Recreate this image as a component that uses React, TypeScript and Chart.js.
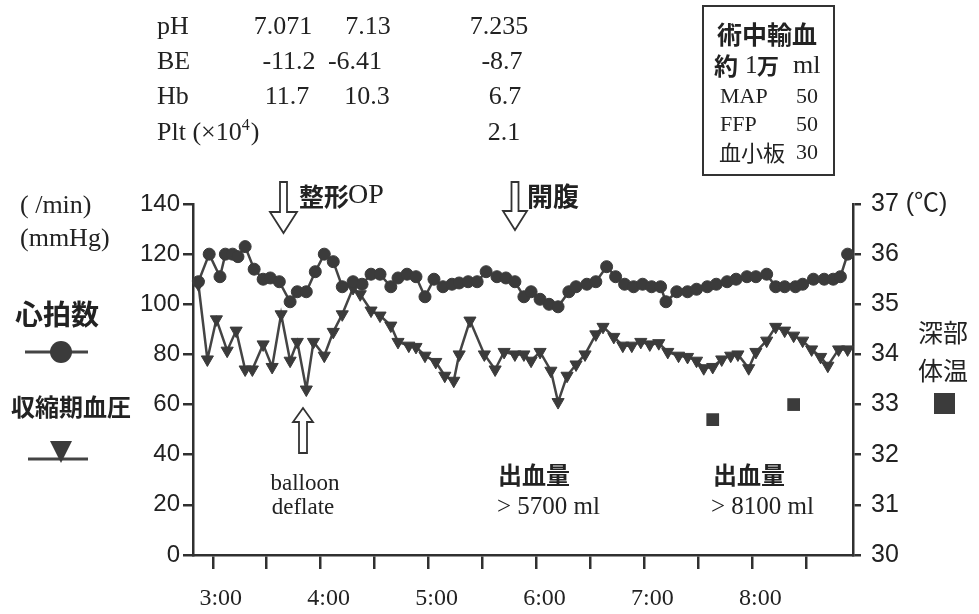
import React, { useEffect, useRef } from "react";
import { Chart, registerables } from "chart.js";

Chart.register(...registerables);

// ---- data ----
const hrTimes = [
  "2:52", "2:58", "3:04", "3:07", "3:11", "3:14", "3:18", "3:23", "3:28", "3:32",
  "3:37", "3:43", "3:47", "3:52", "3:57", "4:02", "4:07", "4:12", "4:18", "4:23",
  "4:28", "4:33", "4:39", "4:43", "4:48", "4:53", "4:58", "5:03", "5:08", "5:13",
  "5:17", "5:22", "5:27", "5:32", "5:38", "5:43", "5:48", "5:53", "5:57", "6:02",
  "6:07", "6:12", "6:18", "6:22", "6:28", "6:33", "6:39", "6:44", "6:49", "6:54",
  "6:59", "7:04", "7:09", "7:12", "7:18", "7:24", "7:29", "7:35", "7:40", "7:46",
  "7:51", "7:57", "8:02", "8:08", "8:13", "8:18", "8:24", "8:28", "8:34", "8:40",
  "8:45", "8:49", "8:53",
];
const heartRate = [
  109, 120, 111, 120, 120, 119, 123, 114, 110, 110.5,
  109, 101, 105, 105, 113, 120, 117, 107, 109, 108,
  112, 112, 107, 110.5, 112, 111, 103, 110, 107, 108,
  108.5, 109, 109, 113, 111, 110.5, 109, 103, 105, 102,
  100, 99, 105, 107, 108, 109, 115, 111, 108, 107,
  108, 107, 107, 101, 105, 105, 106, 107, 108, 109,
  110, 111, 111, 112, 107, 107, 107, 108, 110, 110,
  110, 111, 120,
];

const bpTimes = [
  "2:52", "2:57", "3:02", "3:08", "3:13", "3:18", "3:22", "3:28", "3:33", "3:38",
  "3:43", "3:47", "3:52", "3:56", "4:02", "4:07", "4:12", "4:18", "4:22", "4:28",
  "4:33", "4:39", "4:43", "4:49", "4:53", "4:58", "5:04", "5:09", "5:14", "5:17",
  "5:23", "5:31", "5:37", "5:42", "5:48", "5:53", "5:57", "6:02", "6:08", "6:12",
  "6:17", "6:22", "6:27", "6:33", "6:37", "6:43", "6:48", "6:53", "6:58", "7:03",
  "7:08", "7:13", "7:19", "7:24", "7:29", "7:33", "7:38", "7:43", "7:48", "7:52",
  "7:58", "8:02", "8:08", "8:13", "8:18", "8:23", "8:28", "8:33", "8:38", "8:42",
  "8:48", "8:53",
];
const systolicBP = [
  108, 78, 94, 81.5, 89.5, 74, 74, 84, 75, 96,
  77.5, 85, 66, 85, 79.5, 89, 96, 106.5, 104, 97.5,
  95.5, 91.5, 85, 83.5, 83, 79.5, 77, 71.5, 69.5, 80,
  93.5, 80, 74, 81, 80, 80, 77.5, 81, 73.5, 61,
  71.5, 76, 80, 88, 91, 87, 83.5, 83.5, 85, 84,
  84.5, 81, 79.5, 79, 77.5, 74.5, 75, 78, 79.5, 80,
  74.5, 81, 85.5, 91, 89.5, 87.5, 85.5, 82, 79, 75.5,
  82, 82,
];

const tempTimes = ["7:38", "8:23"];
const coreTemp = [32.7, 33.0];

const hourLabels = ["3:00", "4:00", "5:00", "6:00", "7:00", "8:00"];
const X_START = "2:49";
const X_END = "8:56";

const labHeader = ["pH", "BE", "Hb", "Plt"];
const labPH = ["7.071", "7.13", "7.235"];
const labBE = ["-11.2", "-6.41", "-8.7"];
const labHb = ["11.7", "10.3", "6.7"];
const labPlt = ["", "", "2.1"];

// ---- helpers ----
const toMin = (s: string) => {
  const [h, m] = s.split(":").map(Number);
  return h * 60 + m;
};

const SERIF = '"Liberation Serif", "Noto Sans CJK JP", serif';
const SANS = '"Liberation Sans", "Noto Sans CJK JP", sans-serif';
const CJK = '"Noto Sans CJK JP", sans-serif';
const INK = "#222";
const MARK = "#3b3b3b";
const AXIS = "#303030";

function txt(
  ctx: CanvasRenderingContext2D,
  s: string,
  x: number,
  y: number,
  font: string,
  align: CanvasTextAlign = "left"
) {
  ctx.font = font;
  ctx.textAlign = align;
  ctx.textBaseline = "middle";
  ctx.fillStyle = INK;
  ctx.fillText(s, x, y);
}

function hollowArrow(
  ctx: CanvasRenderingContext2D,
  cx: number,
  start: number,
  headBase: number,
  tip: number,
  shaftHalf: number,
  headHalf: number
) {
  ctx.beginPath();
  ctx.moveTo(cx - shaftHalf, start);
  ctx.lineTo(cx + shaftHalf, start);
  ctx.lineTo(cx + shaftHalf, headBase);
  ctx.lineTo(cx + headHalf, headBase);
  ctx.lineTo(cx, tip);
  ctx.lineTo(cx - headHalf, headBase);
  ctx.lineTo(cx - shaftHalf, headBase);
  ctx.closePath();
  ctx.fillStyle = "#fff";
  ctx.fill();
  ctx.strokeStyle = "#333";
  ctx.lineWidth = 1.8;
  ctx.stroke();
}

const bgPlugin = {
  id: "bg",
  beforeDraw(chart: any) {
    const ctx = chart.ctx as CanvasRenderingContext2D;
    ctx.save();
    ctx.fillStyle = "#fff";
    ctx.fillRect(0, 0, chart.width, chart.height);
    ctx.restore();
  },
};

const annotPlugin = {
  id: "annot",
  afterDraw(chart: any) {
    const ctx = chart.ctx as CanvasRenderingContext2D;
    ctx.save();

    // lab table
    const rowsY = [27, 62, 97, 133];
    const f26 = `26px ${SERIF}`;
    labHeader.forEach((h, i) => {
      if (h !== "Plt") txt(ctx, h, 157, rowsY[i], f26);
    });
    ctx.font = f26;
    txt(ctx, "Plt (×10", 157, rowsY[3], f26);
    const w = ctx.measureText("Plt (×10").width;
    txt(ctx, "4", 157 + w, rowsY[3] - 7, `16px ${SERIF}`);
    const w4 = ctx.measureText("4").width;
    txt(ctx, ")", 157 + w + w4 + 1, rowsY[3], f26);

    const colX = [[283, 368, 499], [289, 355, 502], [287, 367, 505], [0, 0, 504]];
    [labPH, labBE, labHb, labPlt].forEach((row, r) => {
      row.forEach((v, c) => {
        if (v) txt(ctx, v, colX[r][c], rowsY[r], f26, "center");
      });
    });

    // transfusion box
    ctx.strokeStyle = "#333";
    ctx.lineWidth = 2;
    ctx.strokeRect(703, 6, 131, 169);
    txt(ctx, "術中輸血", 767, 34, `bold 25px ${CJK}`, "center");
    txt(ctx, "約", 714, 66, `bold 24px ${CJK}`);
    txt(ctx, "1", 745, 66, `25px ${SERIF}`);
    txt(ctx, "万", 757, 66, `bold 22px ${CJK}`);
    txt(ctx, "ml", 793, 66, `26px ${SERIF}`);
    txt(ctx, "MAP", 720, 97, `22px ${SERIF}`);
    txt(ctx, "50", 818, 97, `22px ${SERIF}`, "right");
    txt(ctx, "FFP", 720, 125, `22px ${SERIF}`);
    txt(ctx, "50", 818, 125, `22px ${SERIF}`, "right");
    txt(ctx, "血小板", 719, 153, `22px ${CJK}`);
    txt(ctx, "30", 818, 153, `22px ${SERIF}`, "right");

    // axis titles
    txt(ctx, "( /min)", 20, 206, `26px ${SERIF}`);
    txt(ctx, "(mmHg)", 20, 239, `26px ${SERIF}`);

    // left legend
    txt(ctx, "心拍数", 57, 314, `bold 28px ${CJK}`, "center");
    ctx.strokeStyle = "#444";
    ctx.lineWidth = 3;
    ctx.beginPath();
    ctx.moveTo(25, 352);
    ctx.lineTo(88, 352);
    ctx.stroke();
    ctx.fillStyle = MARK;
    ctx.beginPath();
    ctx.arc(61, 352, 11, 0, Math.PI * 2);
    ctx.fill();

    txt(ctx, "収縮期血圧", 71, 407, `bold 24px ${CJK}`, "center");
    ctx.beginPath();
    ctx.moveTo(28, 459);
    ctx.lineTo(88, 459);
    ctx.stroke();
    ctx.fillStyle = MARK;
    ctx.beginPath();
    ctx.moveTo(50, 441);
    ctx.lineTo(72, 441);
    ctx.lineTo(61, 463);
    ctx.closePath();
    ctx.fill();

    // right legend
    txt(ctx, "深部", 943, 332, `25px ${CJK}`, "center");
    txt(ctx, "体温", 943, 370, `25px ${CJK}`, "center");
    ctx.fillStyle = MARK;
    ctx.fillRect(934, 393, 21, 21);

    // event arrows
    hollowArrow(ctx, 283.5, 182, 212, 233, 3.5, 13.5);
    txt(ctx, "整形", 299, 196, `bold 25px ${CJK}`);
    txt(ctx, "OP", 348, 196, `28px ${SERIF}`);
    hollowArrow(ctx, 515, 182, 211, 230, 3.5, 12);
    txt(ctx, "開腹", 527, 196, `bold 26px ${CJK}`);
    hollowArrow(ctx, 303, 453, 422, 408, 4, 10);
    txt(ctx, "balloon", 305, 484, `23px ${SERIF}`, "center");
    txt(ctx, "deflate", 303, 508, `23px ${SERIF}`, "center");

    // blood loss
    txt(ctx, "出血量", 498, 475, `bold 24px ${CJK}`);
    txt(ctx, "> 5700 ml", 497, 507, `25px ${SERIF}`);
    txt(ctx, "出血量", 713, 475, `bold 24px ${CJK}`);
    txt(ctx, "> 8100 ml", 711, 507, `25px ${SERIF}`);

    ctx.restore();
  },
};

export default function App() {
  const ref = useRef<HTMLCanvasElement>(null);

  useEffect(() => {
    document.body.style.margin = "0";
    const canvas = ref.current!;
    const chart = new Chart(canvas, {
      type: "line",
      data: {
        datasets: [
          {
            label: "心拍数",
            data: hrTimes.map((t, i) => ({ x: toMin(t), y: heartRate[i] })),
            xAxisID: "x",
            yAxisID: "y",
            borderColor: "#444",
            borderWidth: 2.5,
            pointStyle: "circle",
            pointRadius: 6,
            pointBackgroundColor: MARK,
            pointBorderColor: MARK,
            pointBorderWidth: 1,
            tension: 0,
            clip: false as any,
          },
          {
            label: "収縮期血圧",
            data: bpTimes.map((t, i) => ({ x: toMin(t), y: systolicBP[i] })),
            xAxisID: "x",
            yAxisID: "y",
            borderColor: "#444",
            borderWidth: 2.5,
            pointStyle: "triangle",
            pointRotation: 180,
            pointRadius: 7,
            pointBackgroundColor: MARK,
            pointBorderColor: MARK,
            pointBorderWidth: 1,
            tension: 0,
            clip: false as any,
          },
          {
            label: "深部体温",
            data: tempTimes.map((t, i) => ({ x: toMin(t), y: coreTemp[i] })),
            xAxisID: "x",
            yAxisID: "y2",
            showLine: false,
            pointStyle: "rect",
            pointRadius: 9,
            pointBackgroundColor: MARK,
            pointBorderColor: MARK,
            pointBorderWidth: 0,
            clip: false as any,
          },
        ],
      },
      options: {
        responsive: false,
        animation: false,
        devicePixelRatio: 1,
        layout: { padding: { top: 204, left: 0, right: 0, bottom: 0 } },
        plugins: {
          legend: { display: false },
          tooltip: { enabled: false },
        },
        scales: {
          x: {
            type: "linear",
            position: "bottom",
            min: toMin(X_START),
            max: toMin(X_END),
            afterFit: (s: any) => {
              s.height = 59;
            },
            ticks: {
              stepSize: 30,
              includeBounds: false,
              autoSkip: false,
              maxRotation: 0,
              minRotation: 0,
              labelOffset: 8,
              padding: 15,
              color: INK,
              font: { family: SERIF, size: 24 },
              callback: (v: any) =>
                Number(v) % 60 === 0 ? hourLabels[(Number(v) - 180) / 60] ?? "" : "",
            },
            grid: {
              drawOnChartArea: false,
              drawTicks: true,
              tickLength: 14,
              color: AXIS,
              lineWidth: 2.5,
            },
            border: { display: true, color: AXIS, width: 2.5 },
          },
          y: {
            type: "linear",
            position: "left",
            min: 0,
            max: 140,
            afterFit: (s: any) => {
              s.width = 193;
            },
            ticks: {
              stepSize: 20,
              padding: 3,
              color: INK,
              font: { family: SANS, size: 24 },
            },
            grid: {
              drawOnChartArea: false,
              drawTicks: true,
              tickLength: 10,
              color: AXIS,
              lineWidth: 2.5,
            },
            border: { display: true, color: AXIS, width: 2.5 },
          },
          y2: {
            type: "linear",
            position: "right",
            min: 30,
            max: 37,
            afterFit: (s: any) => {
              s.width = 126;
            },
            ticks: {
              stepSize: 1,
              padding: 10,
              color: INK,
              font: { family: SANS, size: 25 },
              callback: (v: any) => (Number(v) === 37 ? "37 (℃)" : String(v)),
            },
            grid: {
              drawOnChartArea: false,
              drawTicks: true,
              tickLength: 8,
              color: AXIS,
              lineWidth: 2.5,
            },
            border: { display: true, color: AXIS, width: 2.5 },
          },
        },
      } as any,
      plugins: [bgPlugin, annotPlugin],
    });
    return () => chart.destroy();
  }, []);

  return (
    <div style={{ width: 979, height: 614 }}>
      <canvas ref={ref} width={979} height={614} style={{ display: "block" }} />
    </div>
  );
}
